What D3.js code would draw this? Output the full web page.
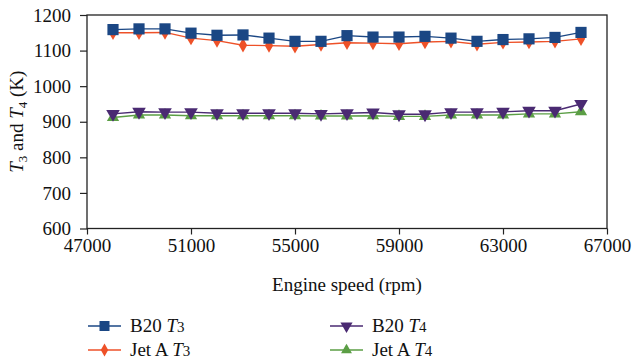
<html>
<head>
<script src="https://d3js.org/d3.v7.min.js"></script>
<style>
  body { margin: 0; background: white; }
  text { font-family: "Liberation Serif", "DejaVu Serif", serif; fill: #111; }
</style>
</head>
<body>
<svg width="634" height="364"></svg>
<script>
// engine speed (rpm)
var speeds = [48000, 49000, 50000, 51000, 52000, 53000, 54000, 55000, 56000, 57000,
              58000, 59000, 60000, 61000, 62000, 63000, 64000, 65000, 66000];
var b20T3  = [1159, 1161, 1161, 1149, 1143, 1144, 1135, 1126, 1126, 1142,
              1138, 1138, 1140, 1135, 1126, 1131, 1133, 1137, 1151];
var jetAT3 = [1150, 1150, 1151, 1135, 1128, 1115, 1114, 1112, 1117, 1122,
              1121, 1119, 1124, 1126, 1118, 1123, 1124, 1126, 1133];
var b20T4  = [922, 928, 927, 927, 924, 924, 924, 924, 922, 924,
              926, 921, 921, 927, 927, 928, 931, 931, 950];
var jetAT4 = [912, 919, 919, 917, 917, 917, 917, 917, 916, 916,
              917, 915, 915, 919, 919, 919, 922, 922, 928];
var xTicks = [47000, 51000, 55000, 59000, 63000, 67000];
var yTicks = [600, 700, 800, 900, 1000, 1100, 1200];

var series = [
  {name: "B20", sub: "3", values: b20T3, color: "#1b4784", symbol: d3.symbolSquare, size: 125, rot: 0},
  {name: "Jet A", sub: "3", values: jetAT3, color: "#ee5128", symbol: d3.symbolDiamond, size: 60, rot: 0},
  {name: "B20", sub: "4", values: b20T4, color: "#4a2a72", symbol: d3.symbolTriangle, size: 80, rot: 180},
  {name: "Jet A", sub: "4", values: jetAT4, color: "#5b9e45", symbol: d3.symbolTriangle, size: 65, rot: 0}
];

var pl = 87, pr = 607, pt = 15, pb = 228.5;
var svg = d3.select("svg");

var xs = d3.scaleLinear().domain([47000, 67000]).range([pl, pr]);
var ys = d3.scaleLinear().domain([600, 1200]).range([pb, pt]);

// frame
svg.append("rect")
  .attr("x", pl).attr("y", pt)
  .attr("width", pr - pl).attr("height", pb - pt)
  .attr("fill", "none").attr("stroke", "#222").attr("stroke-width", 1.3);

var yAxis = svg.append("g").attr("transform", "translate(" + pl + ",0)")
  .call(d3.axisLeft(ys).tickValues(yTicks).tickSize(7).tickPadding(9).tickFormat(d3.format("d")));
var xAxis = svg.append("g").attr("transform", "translate(0," + pb + ")")
  .call(d3.axisBottom(xs).tickValues(xTicks).tickSize(6).tickPadding(4).tickFormat(d3.format("d")));
[yAxis, xAxis].forEach(function(g) {
  g.select(".domain").remove();
  g.selectAll("line").attr("stroke", "#222").attr("stroke-width", 1.2);
  g.selectAll("text").attr("font-size", 19).attr("font-family", "Liberation Serif").attr("fill", "#111");
});

var line = d3.line().x(function(d, i) { return xs(speeds[i]); }).y(function(d) { return ys(d); });

// draw T4 first then T3 (T3 blue on top of orange)
var order = [3, 2, 1, 0];
order.forEach(function(k) {
  var s = series[k];
  var g = svg.append("g");
  g.append("path").attr("d", line(s.values))
    .attr("fill", "none").attr("stroke", s.color).attr("stroke-width", 1.4);
  g.selectAll("path.m").data(s.values).enter().append("path")
    .attr("class", "m")
    .attr("d", d3.symbol().type(s.symbol).size(s.size))
    .attr("transform", function(d, i) {
      return "translate(" + xs(speeds[i]) + "," + ys(d) + ") rotate(" + s.rot + ")";
    })
    .attr("fill", s.color);
});

// axis titles
svg.append("text")
  .attr("x", (pl + pr) / 2).attr("y", 291)
  .attr("text-anchor", "middle").attr("font-size", 19)
  .text("Engine speed (rpm)");

var yt = svg.append("text")
  .attr("transform", "translate(23," + ((pt + pb) / 2) + ") rotate(-90)")
  .attr("text-anchor", "middle").attr("font-size", 19);
yt.append("tspan").attr("font-style", "italic").text("T");
yt.append("tspan").attr("font-size", 13).attr("dy", 4).text("3");
yt.append("tspan").attr("dy", -4).text(" and ");
yt.append("tspan").attr("font-style", "italic").text("T");
yt.append("tspan").attr("font-size", 13).attr("dy", 4).text("4");
yt.append("tspan").attr("dy", -4).text(" (K)");

// legend
var legPos = [[88, 326], [88, 350], [330, 326], [330, 350]];
series.forEach(function(s, k) {
  var p = legPos[k];
  var g = svg.append("g").attr("transform", "translate(" + p[0] + "," + p[1] + ")");
  g.append("line").attr("x1", 0).attr("x2", 33).attr("y1", 0).attr("y2", 0)
    .attr("stroke", s.color).attr("stroke-width", 1.4);
  g.append("path").attr("d", d3.symbol().type(s.symbol).size(s.size * 0.8))
    .attr("transform", "translate(16.5,0) rotate(" + s.rot + ")")
    .attr("fill", s.color);
  var t = g.append("text").attr("x", 42).attr("y", 6).attr("font-size", 19);
  t.append("tspan").text(s.name + " ");
  t.append("tspan").attr("font-style", "italic").text("T");
  t.append("tspan").attr("font-size", 15).text(s.sub);
});
</script>
</body>
</html>
